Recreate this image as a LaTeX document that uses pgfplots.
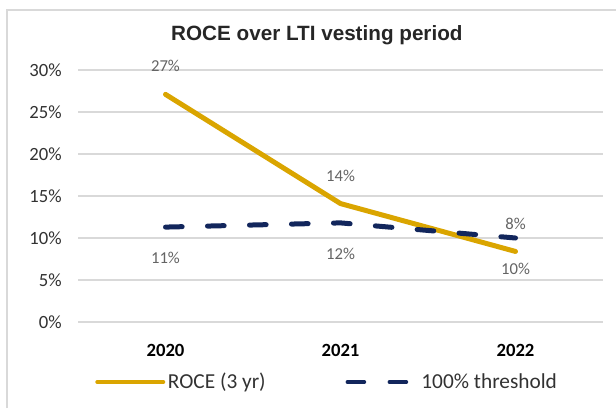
\documentclass[border=0pt]{standalone}
\usepackage{pgfplots}
\pgfplotsset{compat=1.18}
\usepackage{pgfplotstable}
\usepackage{fontspec}
\setmainfont{Carlito}
\newfontfamily\titlefont{Liberation Sans}
\definecolor{gold}{RGB}{218,165,0}
\definecolor{navy}{RGB}{18,38,92}
\definecolor{gridc}{RGB}{217,217,217}
\definecolor{lblc}{RGB}{100,100,100}
\definecolor{tickc}{RGB}{50,50,50}
\pgfplotstableread{
x y lbl
0 27.1 27
1 14.1 14
2 8.4 8
}\roce
\pgfplotstableread{
x y lbl
0 11.3 11
1 11.8 12
2 10.0 10
}\thresh
\begin{document}
\begin{tikzpicture}
\useasboundingbox (0pt,0pt) rectangle (462pt,-306pt);
\draw[gridc, line width=1.1pt] (5.25pt,-306pt) -- (5.25pt,-7.5pt) -- (462pt,-7.5pt);
\begin{axis}[
  at={(58.5pt,-241.5pt)}, anchor=south west,
  scale only axis, width=393.75pt, height=189pt,
  xmin=-0.5, xmax=2.5, ymin=0, ymax=30,
  axis line style={draw=none},
  xtick={0,1,2}, xticklabels={2020,2021,2022},
  ytick={0,5,10,15,20,25,30},
  yticklabels={0\%,5\%,10\%,15\%,20\%,25\%,30\%},
  ymajorgrids, major grid style={gridc, line width=1.1pt},
  major tick length=0pt, tick style={draw=none},
  tick label style={font=\fontsize{14}{16}\selectfont, text=tickc},
  xticklabel style={anchor=center, yshift=-21pt, font=\fontsize{14}{16}\selectfont\bfseries, text=black},
  yticklabel style={anchor=east, inner sep=0pt, xshift=-12pt},
  title={\titlefont\bfseries ROCE over LTI vesting period},
  title style={at={(axis description cs:0.455,1.107)}, anchor=center, font=\fontsize{15.5}{18}\selectfont, text=black!85},
  clip=false,
  nodes near coords={\pgfplotspointmeta\%},
  point meta=explicit symbolic,
  legend columns=2,
  legend style={draw=none, fill=none, inner sep=0pt, at={(axis description cs:0.0324,-0.238)}, anchor=west,
    font=\fontsize{16}{18}\selectfont, text=tickc,
    /tikz/every even column/.append style={column sep=56pt}},
]
\addplot[gold, line width=3.75pt, line cap=round, line join=round,
  nodes near coords style={anchor=center, yshift=21pt, font=\fontsize{12.5}{14}\selectfont, text=lblc},
  legend image code/.code={\draw[gold, line width=3pt, line cap=round] (1.5pt,0pt) -- (51pt,0pt);}]
  table[x=x, y=y, meta=lbl] {\roce};
\addlegendentry{ROCE (3 yr)}
\addplot[navy, line width=3.75pt, line cap=round, dash pattern=on 12.5pt off 19pt,
  nodes near coords style={anchor=center, yshift=-23pt, font=\fontsize{12.5}{14}\selectfont, text=lblc, solid},
  legend image code/.code={\draw[navy, line width=3pt, line cap=round] (1.5pt,0pt) -- (16.5pt,0pt) (33pt,0pt) -- (47pt,0pt); \path (0pt,0pt) (53pt,0pt);}]
  table[x=x, y=y, meta=lbl] {\thresh};
\addlegendentry{100\% threshold}
\end{axis}
\end{tikzpicture}
\end{document}
